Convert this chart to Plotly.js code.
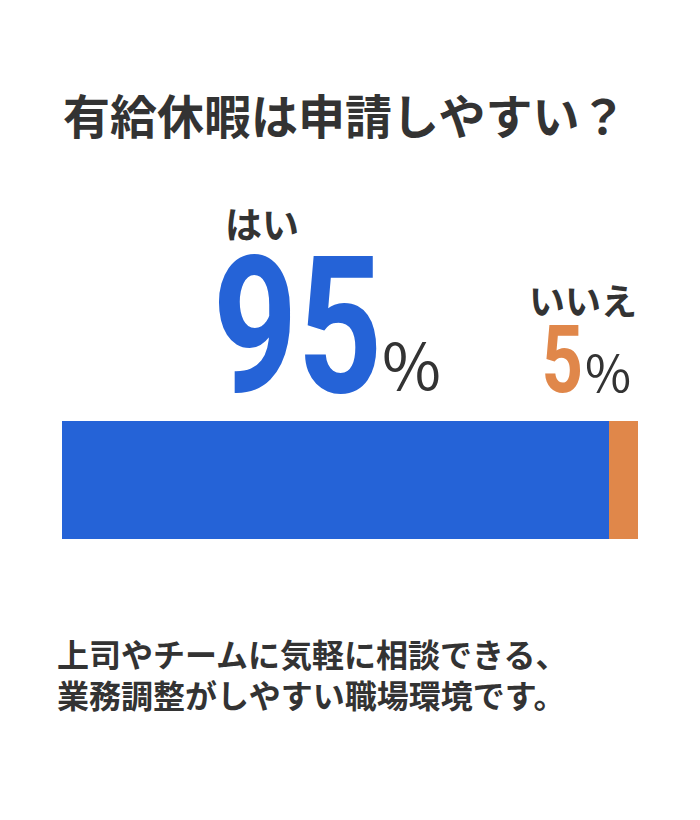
<!DOCTYPE html>
<html>
<head>
<meta charset="utf-8">
<script src="https://cdn.plot.ly/plotly-3.0.1.min.js"></script>
<style>
  html, body { margin: 0; padding: 0; background: #fff; }
  #chart { width: 700px; height: 820px; }
</style>
</head>
<body>
<div id="chart"></div>
<script>
(function () {
    'use strict';

    // Survey answers
    const answers = ['はい', 'いいえ'];
    const shares = [95, 5];
    const barColors = ['#2563d7', '#e0874a'];

    const titleText = '有給休暇は申請しやすい？';
    const noteLines = ['上司やチームに気軽に相談できる、', '業務調整がしやすい職場環境です。'];

    const TEXT = '#333333';
    const JP = '"Noto Sans CJK JP", "Noto Sans", sans-serif';
    const NUM = 'Roboto, "Liberation Sans", sans-serif';
    const SQUEEZE = 0.77; // no condensed face installed, so narrow the big numbers

    // plot area (the bar) in pixels
    const L = 62, R = 638, T = 421, B = 539;
    const px = x => (x - L) / (R - L);
    const py = y => (B - y) / (B - T);

    const traces = answers.map((a, i) => ({
        type: 'bar',
        orientation: 'h',
        name: a,
        x: [shares[i]],
        y: ['q'],
        width: 1,
        marker: { color: barColors[i], line: { width: 0 } },
        hoverinfo: 'skip'
    }));

    const ann = (text, x, y, xanchor, size, color, family, weight) => ({
        xref: 'paper', yref: 'paper',
        x: px(x), y: py(y),
        xanchor: xanchor, yanchor: 'middle',
        text: text, showarrow: false,
        font: { size: size, color: color, family: family, weight: weight || 'bold' }
    });

    const annotations = [
        ann(answers[0], 223, 223, 'left', 37, TEXT, JP),
        ann(String(shares[0]), 384, 326, 'right', 192, barColors[0], NUM),
        ann('%', 380, 362, 'left', 64, TEXT, JP, 'normal'),
        ann(answers[1], 639, 299, 'right', 36, TEXT, JP),
        ann(String(shares[1]), 585, 360, 'right', 94, barColors[1], NUM),
        ann('%', 583, 370, 'left', 50, TEXT, JP, 'normal'),
        ann(noteLines[0], 55, 653, 'left', 32, TEXT, JP),
        ann(noteLines[1], 55, 694, 'left', 32, TEXT, JP)
    ];
    const squeezed = [1, 4];

    const layout = {
        width: 700,
        height: 820,
        paper_bgcolor: '#ffffff',
        plot_bgcolor: '#ffffff',
        margin: { l: L, r: 700 - R, t: T, b: 820 - B, pad: 0 },
        barmode: 'stack',
        showlegend: false,
        title: {
            text: titleText,
            x: 344.7 / 700, xanchor: 'center',
            y: 1 - 118 / 820, yanchor: 'middle',
            font: { size: 47, color: TEXT, family: JP, weight: 'bold' }
        },
        xaxis: { range: [0, 100], visible: false, fixedrange: true },
        yaxis: { range: [-0.5, 0.5], visible: false, fixedrange: true },
        annotations: annotations
    };

    Plotly.newPlot('chart', traces, layout, { displayModeBar: false, staticPlot: true })
        .then(gd => {
            squeezed.forEach(i => {
                const t = gd.querySelector('.annotation[data-index="' + i + '"] text');
                if (!t) return;
                const bb = t.getBBox();
                const r = bb.x + bb.width;
                t.setAttribute('transform',
                    'translate(' + r + ',0) scale(' + SQUEEZE + ',1) translate(' + (-r) + ',0)');
            });
        });
})();
</script>
</body>
</html>
